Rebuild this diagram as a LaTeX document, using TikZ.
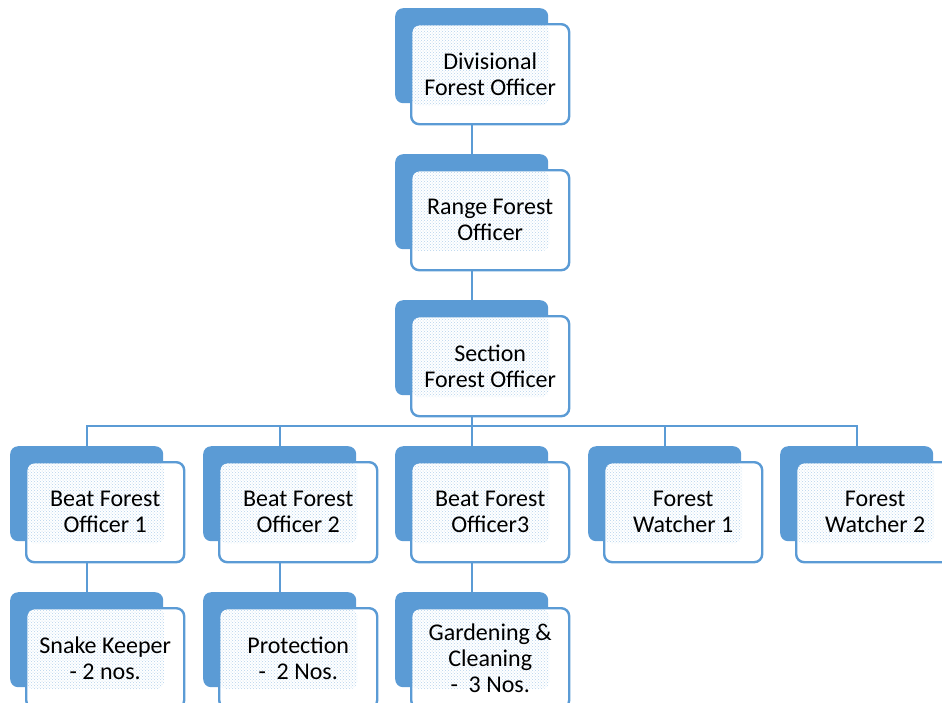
\documentclass[tikz,border=0pt]{standalone}
\usepackage{fontspec}
\setmainfont{Carlito}
\usetikzlibrary{patterns}
\definecolor{officeblue}{RGB}{91,155,213}
\begin{document}
\begin{tikzpicture}[x=1pt,y=-1pt,
    backbox/.style={fill=officeblue, rounded corners=8pt, minimum width=153pt,
        minimum height=95pt, anchor=north west, inner sep=0pt},
    frontbox/.style={draw=officeblue, line width=2.4pt, fill=white, rounded corners=8pt,
        minimum width=158pt, minimum height=100pt, anchor=north west, align=center,
        inner sep=2pt, font=\fontsize{24}{26}\selectfont,
        path picture={\fill[pattern=crosshatch dots, pattern color=officeblue!45]
            (path picture bounding box.north west) rectangle
            ([shift={(-20pt,19pt)}]path picture bounding box.south east);}},
    link/.style={draw=officeblue, line width=2pt}]
        \useasboundingbox (0,0) rectangle (942,702);

        % Back plates
        \node[backbox] (bdfo) at (395,8) {};
        \node[backbox] (brfo) at (395,154) {};
        \node[backbox] (bsfo) at (395,300) {};
        \node[backbox] (bbeat1) at (10,446) {};
        \node[backbox] (bbeat2) at (203,446) {};
        \node[backbox] (bbeat3) at (395,446) {};
        \node[backbox] (bwatch1) at (588,446) {};
        \node[backbox] (bwatch2) at (780,446) {};
        \node[backbox] (bsnake) at (10,592) {};
        \node[backbox] (bprot) at (203,592) {};
        \node[backbox] (bgarden) at (395,592) {};

        % Connectors
        \draw[link] (bdfo.south) -- (brfo.north);
        \draw[link] (brfo.south) -- (bsfo.north);
        \draw[link] (bsfo.south) -- ++(0,31) -| (bbeat1.north);
        \draw[link] (bsfo.south) -- ++(0,31) -| (bbeat2.north);
        \draw[link] (bsfo.south) -- (bbeat3.north);
        \draw[link] (bsfo.south) -- ++(0,31) -| (bwatch1.north);
        \draw[link] (bsfo.south) -- ++(0,31) -| (bwatch2.north);
        \draw[link] (bbeat1.south) -- (bsnake.north);
        \draw[link] (bbeat2.south) -- (bprot.north);
        \draw[link] (bbeat3.south) -- (bgarden.north);

        % Front boxes with the texts
        \node[frontbox] (dfo) at ([shift={(15pt,-15pt)}]bdfo.north west) {Divisional\\Forest Officer};
        \node[frontbox] (rfo) at ([shift={(15pt,-15pt)}]brfo.north west) {Range Forest\\Officer};
        \node[frontbox] (sfo) at ([shift={(15pt,-15pt)}]bsfo.north west) {Section\\Forest Officer};
        \node[frontbox] (beat1) at ([shift={(15pt,-15pt)}]bbeat1.north west) {Beat Forest\\Officer 1};
        \node[frontbox] (beat2) at ([shift={(15pt,-15pt)}]bbeat2.north west) {Beat Forest\\Officer 2};
        \node[frontbox] (beat3) at ([shift={(15pt,-15pt)}]bbeat3.north west) {Beat Forest\\Officer3};
        \node[frontbox] (watch1) at ([shift={(15pt,-15pt)}]bwatch1.north west) {Forest\\Watcher 1};
        \node[frontbox] (watch2) at ([shift={(15pt,-15pt)}]bwatch2.north west) {Forest\\Watcher 2};
        \node[frontbox] (snake) at ([shift={(15pt,-15pt)}]bsnake.north west) {Snake Keeper\\- 2 nos.};
        \node[frontbox] (prot) at ([shift={(15pt,-15pt)}]bprot.north west) {Protection\\-~~2 Nos.};
        \node[frontbox] (garden) at ([shift={(15pt,-15pt)}]bgarden.north west) {Gardening \&\\Cleaning\\-~~3 Nos.};
    \end{tikzpicture}
\end{document}
